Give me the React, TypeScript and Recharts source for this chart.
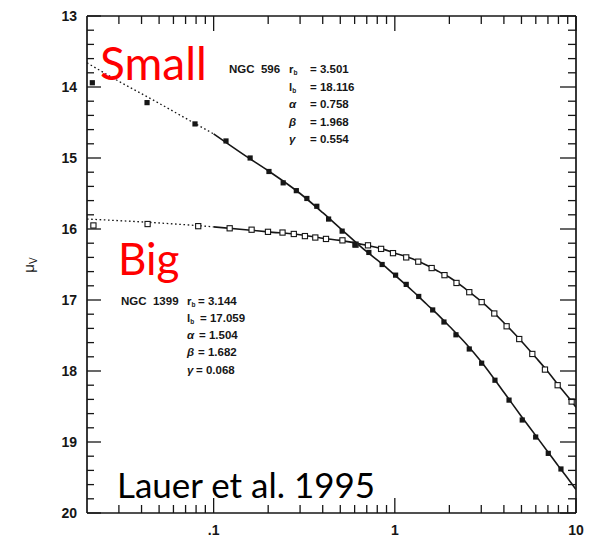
import React from "react";
import { ComposedChart, Line, Scatter, XAxis, YAxis } from "recharts";

// NGC 596 ("Small"), filled squares
const smallR = [0.0214, 0.0429, 0.0789, 0.117, 0.159, 0.202, 0.242, 0.286, 0.327, 0.371, 0.431, 0.512, 0.605, 0.719, 0.851, 1.01, 1.156, 1.355, 1.618, 1.867, 2.175, 2.576, 3.015, 3.57, 4.27, 5.05, 5.99, 7.03, 8.26];
const smallMu = [13.94, 14.22, 14.52, 14.76, 15.0, 15.19, 15.35, 15.46, 15.57, 15.68, 15.86, 16.03, 16.22, 16.33, 16.5, 16.65, 16.78, 16.95, 17.14, 17.31, 17.49, 17.69, 17.89, 18.13, 18.41, 18.69, 18.93, 19.16, 19.38];

// NGC 1399 ("Big"), open squares
const bigR = [0.0217, 0.0432, 0.0822, 0.1226, 0.162, 0.1995, 0.24, 0.277, 0.319, 0.364, 0.417, 0.514, 0.607, 0.711, 0.84, 0.977, 1.156, 1.347, 1.597, 1.88, 2.19, 2.576, 3.015, 3.54, 4.14, 4.86, 5.74, 6.74, 7.92, 9.46];
const bigMu = [15.95, 15.93, 15.96, 15.99, 16.01, 16.04, 16.05, 16.07, 16.1, 16.12, 16.14, 16.16, 16.22, 16.23, 16.28, 16.34, 16.4, 16.46, 16.55, 16.65, 16.76, 16.89, 17.03, 17.19, 17.37, 17.55, 17.76, 17.98, 18.2, 18.43];

// fitted profiles (dotted inside r = 0.1, solid outside)
const smallInnerR = [0.02, 0.03, 0.05, 0.07, 0.1];
const smallInnerMu = [13.66, 13.92, 14.23, 14.44, 14.66];
const smallFitR = [0.1, 0.15, 0.2, 0.3, 0.4, 0.5, 0.7, 0.85, 1, 1.25, 1.5, 1.75, 2, 2.5, 3, 4, 5, 6, 7, 8, 9, 10];
const smallFitMu = [14.66, 14.97, 15.18, 15.5, 15.77, 15.99, 16.32, 16.49, 16.65, 16.87, 17.06, 17.22, 17.37, 17.63, 17.87, 18.3, 18.64, 18.91, 19.14, 19.34, 19.51, 19.67];
const bigInnerR = [0.02, 0.04, 0.07, 0.1];
const bigInnerMu = [15.86, 15.9, 15.94, 15.97];
const bigFitR = [0.1, 0.15, 0.2, 0.3, 0.4, 0.5, 0.7, 0.85, 1, 1.25, 1.5, 1.75, 2, 2.5, 3, 4, 5, 6, 7, 8, 9, 10];
const bigFitMu = [15.97, 16.01, 16.04, 16.08, 16.13, 16.16, 16.23, 16.28, 16.34, 16.42, 16.51, 16.6, 16.68, 16.86, 17.02, 17.32, 17.58, 17.81, 18.01, 18.2, 18.36, 18.51];

// axes
const xMajor = [0.1, 1, 10];
const xLabels = [".1", "1", "10"];
const xMinor = [0.03, 0.04, 0.05, 0.06, 0.07, 0.08, 0.09, 0.2, 0.3, 0.4, 0.5, 0.6, 0.7, 0.8, 0.9, 2, 3, 4, 5, 6, 7, 8, 9];
const yMajor = [13, 14, 15, 16, 17, 18, 19, 20];

// fit parameters printed on the figure
const ngc596 = [["r", "b", "3.501"], ["l", "b", "18.116"], ["α", "", "0.758"], ["β", "", "1.968"], ["γ", "", "0.554"]];
const ngc1399 = [["r", "b", "3.144"], ["l", "b", "17.059"], ["α", "", "1.504"], ["β", "", "1.682"], ["γ", "", "0.068"]];

const xTicks = [...xMajor, ...xMinor].sort((a, b) => a - b);
const yTicks: number[] = [];
yMajor.forEach((v, i) => {
  yTicks.push(v);
  if (i < yMajor.length - 1) [0.2, 0.4, 0.6, 0.8].forEach((d) => yTicks.push(Math.round((v + d) * 10) / 10));
});

const zip = (r: number[], mu: number[]) => r.map((v, i) => ({ r: v, mu: mu[i] }));

const INK = "#161616";
const labelFont = { fontFamily: "'Liberation Sans', Arial, sans-serif", fontWeight: 700 };

// ticks point into the plot, as in the original figure
function BottomTick(props: any) {
  const x = Number(props.x);
  const y = Number(props.y);
  const i = xMajor.indexOf(props.payload.value);
  const len = i >= 0 ? 15 : 8;
  return (
    <g>
      <path d={`M${x},${y}V${y - len}`} stroke={INK} strokeWidth={1.3} fill="none" />
      {i >= 0 && (
        <text x={x} y={y + 22} textAnchor="middle" fontSize={14} fill={INK} style={labelFont}>
          {xLabels[i]}
        </text>
      )}
    </g>
  );
}

function TopTick(props: any) {
  const x = Number(props.x);
  const y = Number(props.y);
  const len = xMajor.includes(props.payload.value) ? 15 : 8;
  return (
    <g>
      <path d={`M${x},${y}V${y + len}`} stroke={INK} strokeWidth={1.3} fill="none" />
    </g>
  );
}

function LeftTick(props: any) {
  const x = Number(props.x);
  const y = Number(props.y);
  const major = Number.isInteger(props.payload.value);
  return (
    <g>
      <path d={`M${x},${y}H${x + (major ? 14 : 7)}`} stroke={INK} strokeWidth={1.3} fill="none" />
      {major && (
        <text x={x - 10} y={y + 5} textAnchor="end" fontSize={14} fill={INK} style={labelFont}>
          {props.payload.value}
        </text>
      )}
    </g>
  );
}

function RightTick(props: any) {
  const x = Number(props.x);
  const y = Number(props.y);
  const major = Number.isInteger(props.payload.value);
  return (
    <g>
      <path d={`M${x},${y}H${x - (major ? 16 : 8)}`} stroke={INK} strokeWidth={1.3} fill="none" />
    </g>
  );
}

const FilledSquare = (p: any) => <rect x={p.cx - 2.6} y={p.cy - 2.6} width={5.2} height={5.2} fill={INK} />;
const OpenSquare = (p: any) => (
  <rect x={p.cx - 2.6} y={p.cy - 2.6} width={5.2} height={5.2} fill="#fff" stroke={INK} strokeWidth={1.1} />
);

function ParamBlock({ name, x, y, rows, symX, eqX, step }: any) {
  const f = { fontFamily: "'Liberation Sans', Arial, sans-serif", fontWeight: 700, fontSize: 11.5, fill: INK };
  return (
    <g>
      <text x={x} y={y} style={{ ...f, whiteSpace: "pre" }}>{name}</text>
      {rows.map((row: string[], i: number) => (
        <g key={i}>
          <text x={symX} y={y + i * step} style={{ ...f, fontStyle: row[1] ? "normal" : "italic" }}>
            {row[0]}
            {row[1] && <tspan fontSize={6.5} dy={2}>{row[1]}</tspan>}
          </text>
          <text x={Array.isArray(eqX) ? eqX[i] : eqX} y={y + i * step} style={f}>
            {"= " + row[2]}
          </text>
        </g>
      ))}
    </g>
  );
}

export default function App() {
  const axisLine = { stroke: INK, strokeWidth: 1.7 };
  const common = { type: "number" as const, allowDataOverflow: true, interval: 0, tickSize: 0, tickMargin: 0, tickLine: false, axisLine };
  return (
    <div style={{ position: "absolute", left: 0, top: 0, width: 596, height: 540, background: "#fff" }}>
      <ComposedChart width={596} height={540} margin={{ top: 15, right: 19, bottom: 26, left: 86 }}>
        <XAxis {...common} dataKey="r" scale="log" domain={[0.02, 10]} ticks={xTicks} height={1} tick={(p: any) => <BottomTick {...p} />} />
        <XAxis {...common} xAxisId="top" orientation="top" dataKey="r" scale="log" domain={[0.02, 10]} ticks={xTicks} height={1} tick={(p: any) => <TopTick {...p} />} />
        <YAxis {...common} dataKey="mu" domain={[13, 20]} reversed ticks={yTicks} width={1} tick={(p: any) => <LeftTick {...p} />} />
        <YAxis {...common} yAxisId="right" orientation="right" dataKey="mu" domain={[13, 20]} reversed ticks={yTicks} width={1} tick={(p: any) => <RightTick {...p} />} />
        <Line data={zip(smallInnerR, smallInnerMu)} dataKey="mu" type="monotone" stroke={INK} strokeWidth={1.3} strokeDasharray="1.6 2.6" dot={false} isAnimationActive={false} />
        <Line data={zip(bigInnerR, bigInnerMu)} dataKey="mu" type="monotone" stroke={INK} strokeWidth={1.3} strokeDasharray="1.6 2.6" dot={false} isAnimationActive={false} />
        <Line data={zip(smallFitR, smallFitMu)} dataKey="mu" type="monotone" stroke={INK} strokeWidth={1.6} dot={false} isAnimationActive={false} />
        <Line data={zip(bigFitR, bigFitMu)} dataKey="mu" type="monotone" stroke={INK} strokeWidth={1.6} dot={false} isAnimationActive={false} />
        <Scatter data={zip(bigR, bigMu)} dataKey="mu" shape={OpenSquare} isAnimationActive={false} />
        <Scatter data={zip(smallR, smallMu)} dataKey="mu" shape={FilledSquare} isAnimationActive={false} />
      </ComposedChart>
      <svg width={596} height={540} style={{ position: "absolute", left: 0, top: 0, pointerEvents: "none" }}>
        <text transform="translate(34,265) rotate(-90)" textAnchor="middle" fontSize={15} fill={INK} style={{ fontFamily: "'Liberation Sans', Arial, sans-serif" }}>
          μ<tspan fontSize={10} dy={3}>V</tspan>
        </text>
        <text x={100} y={80} fontSize={46} fill="#ff0000" style={{ fontFamily: "Lato, 'Open Sans', sans-serif" }}>Small</text>
        <text x={118} y={275} fontSize={44} fill="#ff0000" style={{ fontFamily: "Lato, 'Open Sans', sans-serif" }}>Big</text>
        <text x={117} y={498} fontSize={34} fill="#000" textLength={258} lengthAdjust="spacingAndGlyphs" style={{ fontFamily: "Lato, 'Open Sans', sans-serif" }}>
          Lauer et al. 1995
        </text>
        <ParamBlock name={"NGC  596"} x={229} y={73} rows={ngc596} symX={289} eqX={310} step={17.5} />
        <ParamBlock name={"NGC  1399"} x={121} y={304.5} rows={ngc1399} symX={187} eqX={[198, 200, 199, 198, 196]} step={17.3} />
      </svg>
    </div>
  );
}
